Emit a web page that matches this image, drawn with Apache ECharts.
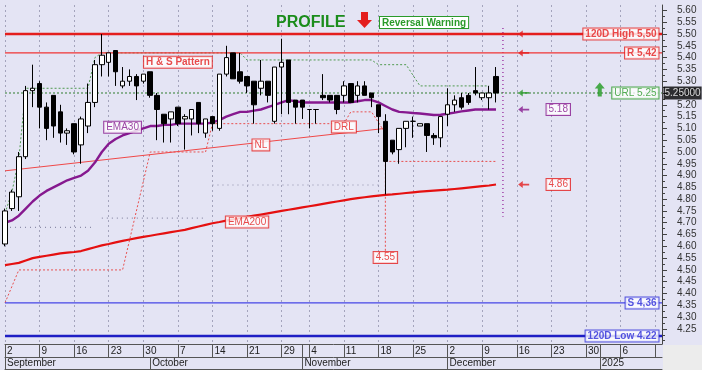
<!DOCTYPE html>
<html><head><meta charset="utf-8">
<script src="https://cdn.jsdelivr.net/npm/echarts@6/dist/echarts.min.js"></script>
<style>html,body{margin:0;padding:0;background:#fff;}#c{width:702px;height:378px;}</style>
</head><body><div id="c"></div><script>
// ---------- categories (trading days + future weekdays) ----------
const sepDays = [2,3,4,5,6,9,10,11,12,13,16,17,18,19,20,23,24,25,26,27,30];
const octDays = [1,2,3,4,7,8,9,10,11,14,15,16,17,18,21,22,23,24,25,29,30,31];
const novDays = [1,4,5,6,7,8,11,12,13,14,15,18,19,20,21,22,25,26,27,28,29];
const decDays = [2,3,4,5,6,9,10,11,12,13,16,17,18,19,20,23,24,25,26,27,30,31];
const janDays = [1,2,3,6,7,8,9,10,13,14];
const monthNames = ['January','February','March','April','May','June','July','August','September','October','November','December'];

// ---------- OHLC: [open, close, low, high] ----------
const ohlc = [
[4.61,4.75,4.60,4.76],[4.76,4.83,4.75,4.84],[4.81,4.98,4.75,5.00],[4.98,5.26,4.97,5.28],[5.26,5.27,5.19,5.37],
[5.29,5.19,5.10,5.30],[5.19,5.10,5.05,5.21],[5.24,5.11,5.06,5.24],[5.17,5.08,5.04,5.20],[5.08,5.09,5.03,5.10],
[5.12,5.00,4.99,5.12],[5.03,5.14,4.95,5.15],[5.11,5.21,5.08,5.29],[5.21,5.37,5.19,5.39],[5.37,5.41,5.32,5.50],
[5.38,5.42,5.32,5.42],[5.43,5.34,5.28,5.43],[5.28,5.30,5.27,5.36],[5.30,5.32,5.28,5.35],[5.32,5.28,5.22,5.33],
[5.30,5.33,5.29,5.33],[5.34,5.24,5.23,5.34],[5.24,5.18,5.05,5.25],[5.16,5.12,5.04,5.16],[5.14,5.17,5.04,5.17],
[5.19,5.12,5.11,5.19],[5.14,5.15,5.01,5.16],[5.14,5.18,5.07,5.18],[5.21,5.12,5.08,5.21],[5.08,5.14,5.06,5.14],
[5.15,5.12,5.09,5.15],[5.10,5.33,5.09,5.33],[5.33,5.40,5.32,5.45],[5.42,5.31,5.31,5.42],[5.34,5.30,5.29,5.42],
[5.32,5.28,5.25,5.32],[5.30,5.20,5.12,5.30],[5.27,5.30,5.24,5.39],[5.30,5.24,5.21,5.30],[5.13,5.36,5.12,5.36],
[5.36,5.38,5.16,5.48],[5.39,5.21,5.16,5.39],[5.22,5.19,5.12,5.22],[5.22,5.19,5.14,5.22],[5.18,5.18,5.10,5.18],
[5.18,5.18,5.12,5.18],[5.24,5.23,5.22,5.33],[5.24,5.22,5.21,5.24],[5.24,5.18,5.16,5.24],[5.24,5.28,5.21,5.30],
[5.29,5.21,5.21,5.29],[5.24,5.28,5.21,5.30],[5.28,5.24,5.24,5.30],[5.25,5.23,5.19,5.25],[5.20,5.15,5.08,5.20],
[5.13,4.96,4.82,5.16],[5.05,5.00,4.99,5.05],[5.01,5.10,4.95,5.10],[5.10,5.13,5.02,5.13],[5.13,5.13,5.06,5.15],
[5.11,5.12,5.11,5.12],[5.12,5.07,5.00,5.12],[5.07,5.06,5.03,5.08],[5.06,5.15,5.02,5.15],[5.16,5.20,5.11,5.27],
[5.20,5.22,5.17,5.24],[5.23,5.19,5.18,5.25],[5.24,5.21,5.20,5.25],[5.26,5.25,5.24,5.36],[5.23,5.25,5.22,5.25],
[5.23,5.25,5.18,5.28],[5.32,5.25,5.21,5.36]
];

// ---------- indicators ----------
const ema30 = [4.70,4.71,4.73,4.76,4.79,4.815,4.835,4.85,4.865,4.88,4.89,4.90,4.92,4.955,5.00,5.035,5.055,5.07,5.08,5.09,
5.10,5.11,5.11,5.115,5.115,5.12,5.12,5.12,5.12,5.12,5.125,5.135,5.15,5.16,5.17,5.17,5.175,5.18,5.19,5.20,
5.21,5.22,5.215,5.21,5.21,5.21,5.21,5.21,5.21,5.21,5.21,5.215,5.22,5.22,5.21,5.195,5.18,5.17,5.168,5.165,
5.163,5.16,5.157,5.158,5.162,5.167,5.172,5.176,5.18,5.18,5.18,5.18];
const ema200 = [4.52,4.525,4.53,4.54,4.55,4.555,4.56,4.565,4.57,4.573,4.576,4.58,4.588,4.596,4.604,4.61,4.617,4.623,4.629,4.635,
4.64,4.645,4.65,4.655,4.66,4.665,4.67,4.677,4.684,4.691,4.698,4.703,4.709,4.714,4.72,4.725,4.73,4.735,4.74,4.745,
4.75,4.755,4.76,4.765,4.77,4.775,4.78,4.785,4.79,4.795,4.80,4.804,4.808,4.812,4.815,4.818,4.82,4.823,4.826,4.829,
4.832,4.834,4.836,4.838,4.84,4.843,4.846,4.849,4.852,4.855,4.858,4.862];
const neckline = [[0,4.92],[55,5.10]];
const greenTrail = [[0,4.74],[1,4.83],[2,4.97],[3,5.27],[12,5.27],[13,5.40],[14,5.42],[34,5.42],[35,5.39],[53,5.39],[54,5.37],[58,5.37],[60,5.28],[70,5.28]];
const redTrail = [[0,4.36],[2,4.50],[17,4.50],[21,5.00],[29,5.00],[30,5.12],[49,5.12],[50,5.17],[53,5.17],[55,5.08],[55,4.58]];
const redTrailLow = [[55,4.96],[71,4.96]];
const grayTrails = [[[0,4.68],[13,4.68]],[[14,4.72],[29,4.72]],[[30,4.86],[54,4.86]]];
const todayLine = [[72,5.525],[72,4.725]];

// ---------- levels ----------
const levelValues = [5.50, 5.42, 5.25, 4.36, 4.22];
const levelLabels = ['120D High 5,50','R 5,42','URL 5.25','S 4,36','120D Low 4.22'];
const lastPrice = 5.25;

// ---------- y tick labels ----------
const yTickLabels = [4.25,4.30,4.35,4.40,4.45,4.50,4.55,4.60,4.65,4.70,4.75,4.80,4.85,4.90,4.95,5.00,5.05,5.10,5.15,5.20,5.25,5.30,5.35,5.40,5.45,5.50,5.55,5.60];

// ---------- annotations (data coordinates) ----------
const annotText = ['H & S Pattern','EMA30','NL','DRL','EMA200','4.55'];
const annotX = [24.9,17.2,37,49.3,35.1,55.4];
const annotY = [5.38,5.105,5.03,5.106,4.703,4.553];
const arrowX = 75.3, endLabelX = 80.2;
const upArrow = [86, 5.265];

// ---------- helpers ----------
const categories = [];
[[2024,9,sepDays],[2024,10,octDays],[2024,11,novDays],[2024,12,decDays],[2025,1,janDays]].forEach(([y,m,days]) =>
  days.forEach(d => categories.push(y + '-' + String(m).padStart(2,'0') + '-' + String(d).padStart(2,'0'))));
const lastIdx = categories.length - 1;
const dateOf = s => new Date(s + 'T00:00:00Z');
const isWeekStart = i => {
  if (i === 0) return true;
  const a = dateOf(categories[i-1]), b = dateOf(categories[i]);
  return b.getUTCDay() < a.getUTCDay() || (b - a) >= 7*864e5;
};
const isMonthStart = i => i === 0 || categories[i].slice(5,7) !== categories[i-1].slice(5,7);
const row1Tick = i => isWeekStart(i) || (isMonthStart(i) && i > 0 && !isWeekStart(i-1));
const minorTicks = [];
for (let k = 0; k <= 56; k++) minorTicks.push(+(4.20 + k*0.025).toFixed(3));

const AF = "'Liberation Sans',Arial,sans-serif";
const RED = '#e41e1e', PURPLE = '#86198f', GREEN = '#2a9a2a', BLUE = '#2a2ad8';

const arrowLeft = 'path://M0,4 L5,0 L5,3 L12,3 L12,5 L5,5 L5,8 Z';
const arrowUp = 'path://M5,0 L10,6 L7,6 L7,14 L3,14 L3,6 L0,6 Z';

function boxLabel(text, color, opts) {
  return Object.assign({show:true, formatter:text, color:color, fontSize:10, fontFamily:AF,
    backgroundColor:'#ffffff', borderColor:color, borderWidth:1, padding:[1,2,0,2], lineHeight:10}, opts||{});
}

const levelLine = [
  {color:RED, width:2.5, type:'solid'},
  {color:'#f03434', width:1.2, type:'solid'},
  {color:'#2f7d2f', width:1, type:[2,2]},
  {color:'#4646e6', width:1.2, type:'solid'},
  {color:'#1e1ec4', width:2.5, type:'solid'}
];
const levelLabelStyle = [
  {color:RED, fontWeight:'bold'},
  {color:RED, fontWeight:'bold'},
  {color:GREEN, fontWeight:'normal'},
  {color:BLUE, fontWeight:'bold'},
  {color:BLUE, fontWeight:'bold'}
];

const series = [];
grayTrails.forEach(seg => series.push({type:'line', data:seg, symbol:'none', silent:true, z:1,
  lineStyle:{color:'#8c8ca8', width:1.2, type:[1,4]}}));
series.push({type:'line', data:greenTrail, symbol:'none', silent:true, z:1, lineStyle:{color:'#4f9a4f', width:1, type:[2,2]}});
series.push({type:'line', data:redTrail, symbol:'none', silent:true, z:1, lineStyle:{color:'#e85050', width:1, type:[2,2]}});
series.push({type:'line', data:redTrailLow, symbol:'none', silent:true, z:1, lineStyle:{color:'#e85050', width:1, type:[2,2]}});
series.push({type:'line', data:todayLine, symbol:'none', silent:true, z:1, lineStyle:{color:'#a040a8', width:1.5, type:[1,3]}});
levelValues.forEach((v,k) => series.push({type:'line', data:[[0,v],[lastIdx,v]], symbol:'none', silent:true, z:2,
  lineStyle:levelLine[k]}));
series.push({type:'line', data:neckline, symbol:'none', silent:true, z:2, lineStyle:{color:'#f04848', width:1}});
series.push({type:'line', data:ema200, symbol:'none', silent:true, z:3, lineStyle:{color:'#e51010', width:2.2}});
series.push({type:'line', data:ema30, symbol:'none', silent:true, z:3, lineStyle:{color:PURPLE, width:2.4}});
series.push({type:'candlestick', data:ohlc, barWidth:5, z:5, silent:true,
  itemStyle:{color:'#ffffff', color0:'#000000', borderColor:'#000000', borderColor0:'#000000', borderWidth:1}});
// arrows
series.push({type:'scatter', silent:true, z:6, symbol:arrowLeft, symbolSize:[11,7],
  data:[
    {value:[arrowX, levelValues[0]], itemStyle:{color:RED}},
    {value:[arrowX, levelValues[1]], itemStyle:{color:RED}},
    {value:[arrowX, levelValues[2]], itemStyle:{color:GREEN}},
    {value:[arrowX, ema30[ema30.length-1]], itemStyle:{color:PURPLE}},
    {value:[arrowX, ema200[ema200.length-1]], itemStyle:{color:RED}}
  ]});
series.push({type:'scatter', silent:true, z:6, symbol:arrowUp, symbolSize:[10,14], itemStyle:{color:'#1f9a1f'}, data:[upArrow]});
// annotation labels
const annotColors = [RED, PURPLE, RED, RED, RED, RED];
const annotData = annotText.map((t,k) => ({
  value:[annotX[k], annotY[k]],
  label: boxLabel(t, annotColors[k], k === 0 ? {fontWeight:'bold', position:'inside'} : {position:'inside'})
}));
annotData.push({value:[endLabelX, ema30[ema30.length-1]], label: boxLabel(ema30[ema30.length-1].toFixed(2), PURPLE, {position:'inside'})});
annotData.push({value:[endLabelX, ema200[ema200.length-1]], label: boxLabel(ema200[ema200.length-1].toFixed(2), RED, {position:'inside'})});
// level labels at right edge
levelValues.forEach((v,k) => annotData.push({value:[lastIdx, v],
  label: boxLabel(levelLabels[k], levelLabelStyle[k].color, {position:'left', distance:3, fontWeight:levelLabelStyle[k].fontWeight})}));
// current price label on the axis
annotData.push({value:[lastIdx, lastPrice], label:{show:true, position:'right', distance:1, formatter:lastPrice.toFixed(5),
  color:'#fff', backgroundColor:'#000', fontSize:10, fontFamily:AF, padding:[2,1,1,1]}});
series.push({type:'scatter', silent:true, z:7, symbolSize:1, clip:false, itemStyle:{color:'rgba(0,0,0,0)'}, data:annotData});

const chart = echarts.init(document.getElementById('c'), null, {renderer:'canvas'});
chart.setOption({
  animation:false,
  backgroundColor:'#e4e4f4',
  grid:{left:5, right:40, top:5, bottom:34, containLabel:false},
  xAxis:[
    {type:'category', data:categories, boundaryGap:false, position:'bottom',
     axisLine:{show:true, onZero:false, lineStyle:{color:'#555', width:1}},
     axisTick:{show:true, interval:(i)=>row1Tick(i), length:13, lineStyle:{color:'#555'}},
     axisLabel:{interval:(i)=>isWeekStart(i) && i < lastIdx-1, formatter:v=>String(+v.slice(8)),
       align:'left', padding:[0,0,0,2], margin:2, fontSize:10, color:'#222', fontFamily:AF},
     splitLine:{show:true, interval:(i)=>isWeekStart(i), lineStyle:{color:'#a4a4bc', type:[2,3], width:1}}},
    {type:'category', data:categories, boundaryGap:false, position:'bottom', offset:13,
     axisLine:{show:true, onZero:false, lineStyle:{color:'#555', width:1}},
     axisTick:{show:true, interval:(i)=>isMonthStart(i), length:12, lineStyle:{color:'#555'}},
     axisLabel:{interval:(i)=>isMonthStart(i), formatter:v=>{const m=+v.slice(5,7); return m===1 ? v.slice(0,4) : monthNames[m-1];},
       align:'left', padding:[0,0,0,2], margin:1, fontSize:10, color:'#222', fontFamily:AF},
     splitLine:{show:false}},
    {type:'category', data:categories, boundaryGap:false, position:'bottom', offset:25,
     axisLine:{show:true, onZero:false, lineStyle:{color:'#555', width:1}}, axisTick:{show:false}, axisLabel:{show:false}, splitLine:{show:false}}
  ],
  yAxis:[
    {type:'value', position:'right', min:4.186, max:5.623,
     axisLine:{show:true, lineStyle:{color:'#444'}},
     axisTick:{show:true, customValues:yTickLabels, length:5, lineStyle:{color:'#444'}},
     axisLabel:{customValues:yTickLabels, formatter:v=>v.toFixed(2), margin:15, fontSize:10, color:'#333', fontFamily:AF},
     splitLine:{show:false}},
    {type:'value', position:'right', min:4.186, max:5.623,
     axisLine:{show:false}, axisTick:{show:true, customValues:minorTicks, length:3, lineStyle:{color:'#444'}},
     axisLabel:{show:false}, splitLine:{show:false}}
  ],
  graphic:[
    {type:'rect', left:0, top:370, shape:{width:702, height:8}, style:{fill:'#ffffff'}, silent:true, z:0},
    {type:'rect', left:663, top:345, shape:{width:39, height:25}, style:{fill:'#ececec'}, silent:true, z:0},
    {type:'text', left:276, top:15, style:{text:'PROFILE', fill:'#1b8c1b', font:"bold 16px 'Liberation Sans',Arial,sans-serif"}, silent:true, z:10},
    {type:'polygon', shape:{points:[[361,12],[368,12],[368,20],[372,20],[364.5,28],[357,20],[361,20]]}, style:{fill:RED}, silent:true, z:10},
    {type:'text', left:379, top:16, style:{text:'Reversal Warning', fill:GREEN, font:"bold 10px 'Liberation Sans',Arial,sans-serif",
      backgroundColor:'#fff', borderColor:GREEN, borderWidth:1, padding:[1,2,0,2], lineHeight:10}, silent:true, z:10}
  ],
  series: series
});
</script></body></html>
